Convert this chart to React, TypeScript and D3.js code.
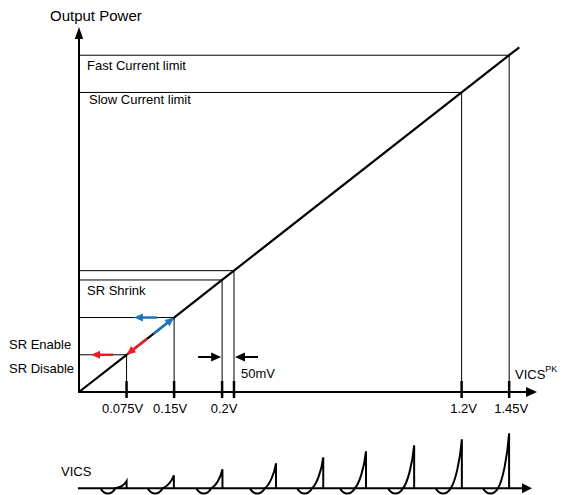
import React from "react";
import * as d3 from "d3";

const W = 562;
const H = 495;

// VICS peak thresholds (V) and output power (% of max) on the ramp
const vicsStops = [0, 0.075, 0.15, 0.2, 0.25, 1.2, 1.45, 1.5];
const powerStops = [0, 10.8, 21.6, 32.5, 35.2, 86.9, 97.7, 100];

const tickVics = [0.075, 0.15, 0.2, 0.25, 1.2, 1.45];
const tickLabels = ["0.075V", "0.15V", "0.2V", "", "1.2V", "1.45V"];

const limitVics = [1.45, 1.2, 0.2];
const limitLabels = ["Fast Current limit", "Slow Current limit", "SR Shrink"];

// VICS pulse train (time in arbitrary units, peak in mV-ish units)
const pulseTime = [1.08, 2.13, 3.21, 4.4, 5.45, 6.4, 7.47, 8.53, 9.58];
const pulsePeak = [7, 13, 19, 25, 31, 37, 43, 49, 55];

const FONT = "'Liberation Sans', Arial, Helvetica, sans-serif";
const BLUE = "#1b75bb";
const RED = "#ed1c24";

function Arrow({x1, y1, x2, y2, color = "#000", width = 2.5, head = 9, half = 4}: any) {
  const dx = x2 - x1;
  const dy = y2 - y1;
  const len = Math.hypot(dx, dy);
  const ux = dx / len;
  const uy = dy / len;
  const bx = x2 - ux * head;
  const by = y2 - uy * head;
  const pts = [
    [x2, y2],
    [bx - uy * half, by + ux * half],
    [bx + uy * half, by - ux * half],
  ];
  return (
    <g>
      <line x1={x1} y1={y1} x2={bx + ux} y2={by + uy} stroke={color} strokeWidth={width} />
      <polygon points={pts.map((p) => p.join(",")).join(" ")} fill={color} />
    </g>
  );
}

export default function App() {
  // power -> pixels, both directions on the straight ramp
  const xPow = d3.scaleLinear().domain([0, 100]).range([79, 519.3]);
  const yPow = d3.scaleLinear().domain([0, 100]).range([392, 47.3]);
  const vicsToPower = d3.scaleLinear().domain(vicsStops).range(powerStops);
  const x = (v: number) => xPow(vicsToPower(v));
  const y = (v: number) => yPow(vicsToPower(v));

  const x0 = x(0);
  const y0 = y(0);

  const ramp = d3
    .line<number>()
    .x((v) => x(v))
    .y((v) => y(v))(vicsStops);

  // lower waveform
  const tx = d3.scaleLinear().domain([0, 10]).range([78, 528]);
  const ay = d3.scaleLinear().domain([0, 60]).range([488.3, 428.3]);
  const base = ay(0);

  const pulsePath = (tp: number, a: number) => {
    const p = d3.path();
    const s = tp - 0.58;
    const c = tp - 0.25;
    p.moveTo(tx(s), base);
    p.bezierCurveTo(tx(s + 0.08), ay(-7), tx(c - 0.08), ay(-7), tx(c), base);
    p.bezierCurveTo(tx(c + 0.1), ay(a * 0.12), tx(tp - 0.04), ay(a * 0.55), tx(tp), ay(a));
    p.lineTo(tx(tp), base);
    return p.toString();
  };

  const yEn = y(0.075);
  const yBlue = y(0.15);

  return (
    <svg
      width={W}
      height={H}
      style={{position: "absolute", left: 0, top: 0, background: "#fff"}}
      fontFamily={FONT}
      fontSize={13}
    >
      <rect width={W} height={H} fill="#fff" />

      {/* guide lines */}
      {tickVics.map((v, i) => (
        <g key={i} stroke="#000" strokeWidth={1}>
          <line x1={x0} x2={x(v)} y1={y(v)} y2={y(v)} />
          <line x1={x(v)} x2={x(v)} y1={y(v)} y2={y0} />
        </g>
      ))}

      {/* ramp */}
      <path d={ramp || ""} fill="none" stroke="#000" strokeWidth={2.2} />

      {/* axes */}
      <line x1={x0} x2={x0} y1={y0 + 1} y2={37} stroke="#000" strokeWidth={2} />
      <polygon points={`${x0},27 ${x0 - 4.2},39 ${x0 + 4.2},39`} fill="#000" />
      <line x1={x0 - 1} x2={528} y1={y0} y2={y0} stroke="#000" strokeWidth={2} />
      <polygon points={`537,${y0} 526,${y0 - 5} 526,${y0 + 5}`} fill="#000" />

      {tickVics.map((v, i) => (
        <line key={i} x1={x(v)} x2={x(v)} y1={y0 - 11} y2={y0 + 6} stroke="#000" strokeWidth={2.5} />
      ))}
      {tickVics.map((v, i) => (
        <text key={i} x={x(v) + (i < 2 ? -4 : 2)} y={413} textAnchor="middle" fill="#000">
          {tickLabels[i]}
        </text>
      ))}

      <text x={50} y={21} fontSize={15} fill="#000">
        Output Power
      </text>
      <text x={515} y={379} fill="#000">
        VICS
        <tspan fontSize={9} dy={-7}>
          PK
        </tspan>
      </text>

      {limitVics.map((v, i) => (
        <text key={i} x={i === 1 ? 89 : 87} y={y(v) + (i === 1 ? 12 : 15)} fill="#000">
          {limitLabels[i]}
        </text>
      ))}

      <text x={9} y={yEn - 6} fill="#000">
        SR Enable
      </text>
      <text x={9} y={yEn + 18} fill="#000">
        SR Disable
      </text>

      {/* SR arrows */}
      <Arrow x1={x(0.117)} y1={y(0.117)} x2={x(0.15)} y2={y(0.15)} color={BLUE} />
      <Arrow x1={x(0.1226)} y1={yBlue} x2={x(0.0866)} y2={yBlue} color={BLUE} />
      <Arrow x1={x(0.1077)} y1={y(0.1077)} x2={x(0.075)} y2={y(0.075)} color={RED} />
      <Arrow x1={x(0.054)} y1={yEn} x2={x(0.019)} y2={yEn} color={RED} />

      {/* 50mV window */}
      <Arrow x1={x(0.2) - 24} y1={357} x2={x(0.2) - 1} y2={357} width={2} head={10} half={4.5} />
      <Arrow x1={x(0.25) + 24} y1={357} x2={x(0.25) + 1} y2={357} width={2} head={10} half={4.5} />
      <text x={241} y={378} fill="#000">
        50mV
      </text>

      {/* VICS waveform */}
      <text x={61} y={476} fill="#000">
        VICS
      </text>
      <line x1={tx(0)} x2={tx(10) - 4} y1={base} y2={base} stroke="#000" strokeWidth={2} />
      <polygon points={`532,${base} 522,${base - 5} 522,${base + 5}`} fill="#000" />
      {pulseTime.map((t, i) => (
        <path key={i} d={pulsePath(t, pulsePeak[i])} fill="none" stroke="#000" strokeWidth={2} />
      ))}
    </svg>
  );
}
